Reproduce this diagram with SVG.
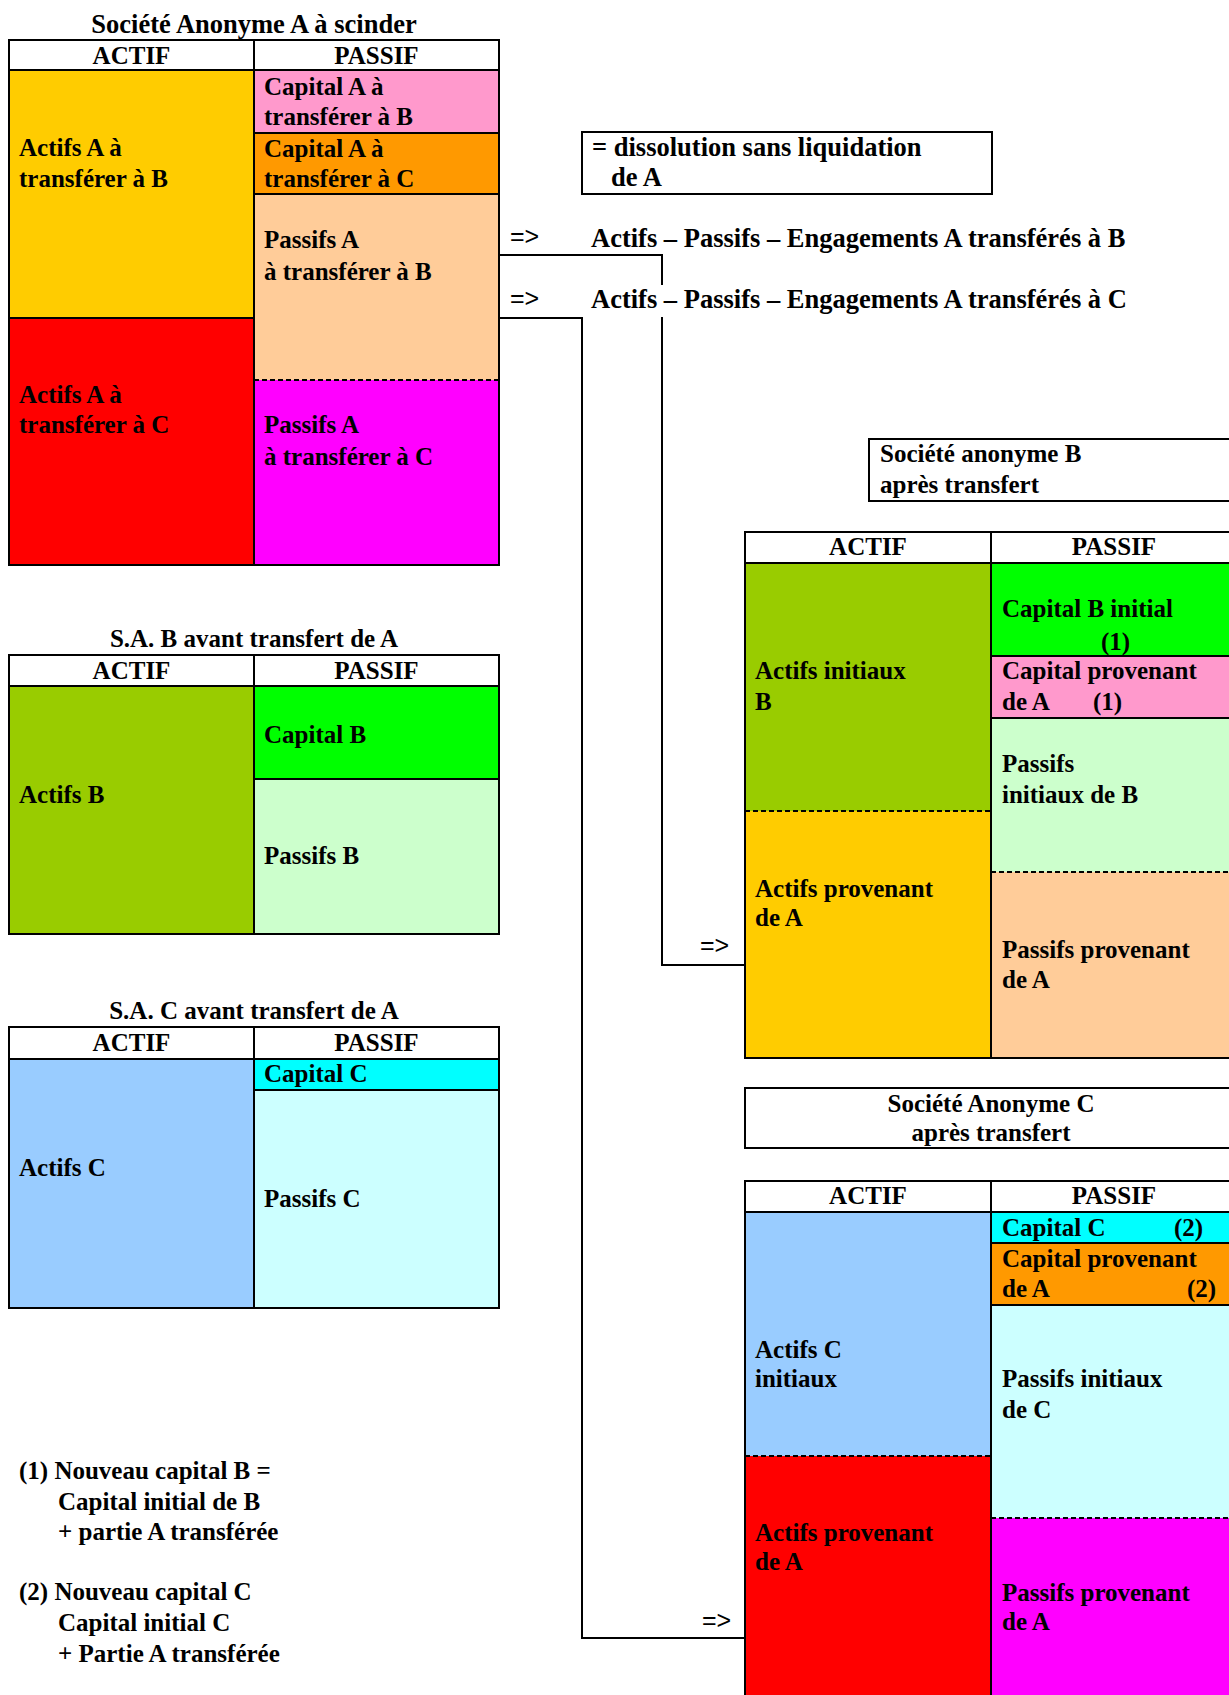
<svg xmlns="http://www.w3.org/2000/svg" width="1229" height="1695" viewBox="0 0 1229 1695">
<style>
.t{font-family:"Liberation Serif",serif;font-weight:bold;font-size:25px;fill:#000}
.l{font-size:26.5px}
.c{text-anchor:middle}
.a{font-family:"Liberation Sans",sans-serif;font-size:25px;fill:#000}
.b{fill:none;stroke:#000;stroke-width:2}
.d{fill:none;stroke:#000;stroke-width:2;stroke-dasharray:5,3}
.w{fill:#fff}
</style>
<rect width="1229" height="1695" fill="#fff"/>

<g id="table-A">
<text class="t l c" x="254" y="33">Société Anonyme A à scinder</text>
<rect class="w" x="9" y="40" width="490" height="30"/>
<rect x="9" y="70" width="245" height="248" fill="#FFCC00"/>
<rect x="9" y="318" width="245" height="247" fill="#FF0000"/>
<rect x="254" y="70" width="245" height="63" fill="#FF99CC"/>
<rect x="254" y="133" width="245" height="61" fill="#FF9900"/>
<rect x="254" y="194" width="245" height="186" fill="#FFCC99"/>
<rect x="254" y="380" width="245" height="185" fill="#FF00FF"/>
<path class="b" d="M9,70 H499 M9,318 H254 M254,133 H499 M254,194 H499 M254,40 V565"/>
<path class="d" d="M254,380 H499"/>
<rect class="b" x="9" y="40" width="490" height="525"/>
<text class="t c" x="131.5" y="64">ACTIF</text>
<text class="t c" x="376.5" y="64">PASSIF</text>
<text class="t" x="19" y="156">Actifs A à</text>
<text class="t" x="19" y="187">transférer à B</text>
<text class="t" x="19" y="403">Actifs A à</text>
<text class="t" x="19" y="433">transférer à C</text>
<text class="t" x="264" y="95">Capital A à</text>
<text class="t" x="264" y="125">transférer à B</text>
<text class="t" x="264" y="157">Capital A à</text>
<text class="t" x="264" y="187">transférer à C</text>
<text class="t" x="264" y="248">Passifs A</text>
<text class="t" x="264" y="280">à transférer à B</text>
<text class="t" x="264" y="433">Passifs A</text>
<text class="t" x="264" y="465">à transférer à C</text>
</g>

<g id="dissolution">
<rect class="b" x="582" y="132" width="410" height="62"/>
<text class="t l" x="592" y="156">= dissolution sans liquidation</text>
<text class="t l" x="611" y="186">de A</text>
</g>

<g id="transfer-B-label">
<text class="a" x="510" y="245">=&gt;</text>
<text class="t l" x="591" y="247">Actifs – Passifs – Engagements A transférés à B</text>
</g>
<g id="transfer-C-label">
<text class="a" x="510" y="307">=&gt;</text>
<text class="t l" x="591" y="308">Actifs – Passifs – Engagements A transférés à C</text>
</g>

<g id="table-B-before">
<text class="t c" x="254" y="647">S.A. B avant transfert de A</text>
<rect class="w" x="9" y="655" width="490" height="31"/>
<rect x="9" y="686" width="245" height="248" fill="#99CC00"/>
<rect x="254" y="686" width="245" height="93" fill="#00FF00"/>
<rect x="254" y="779" width="245" height="155" fill="#CCFFCC"/>
<path class="b" d="M9,686 H499 M254,779 H499 M254,655 V934"/>
<rect class="b" x="9" y="655" width="490" height="279"/>
<text class="t c" x="131.5" y="679">ACTIF</text>
<text class="t c" x="376.5" y="679">PASSIF</text>
<text class="t" x="264" y="743">Capital B</text>
<text class="t" x="19" y="803">Actifs B</text>
<text class="t" x="264" y="864">Passifs B</text>
</g>

<g id="table-C-before">
<text class="t c" x="254" y="1019">S.A. C avant transfert de A</text>
<rect class="w" x="9" y="1027" width="490" height="32"/>
<rect x="9" y="1059" width="245" height="249" fill="#99CCFF"/>
<rect x="254" y="1059" width="245" height="31" fill="#00FFFF"/>
<rect x="254" y="1090" width="245" height="218" fill="#CCFFFF"/>
<path class="b" d="M9,1059 H499 M254,1090 H499 M254,1027 V1308"/>
<rect class="b" x="9" y="1027" width="490" height="281"/>
<text class="t c" x="131.5" y="1051">ACTIF</text>
<text class="t c" x="376.5" y="1051">PASSIF</text>
<text class="t" x="264" y="1082">Capital C</text>
<text class="t" x="19" y="1176">Actifs C</text>
<text class="t" x="264" y="1207">Passifs C</text>
</g>

<g id="title-B-after">
<rect class="b" x="869" y="439" width="368" height="62"/>
<text class="t" x="880" y="462">Société anonyme B</text>
<text class="t" x="880" y="493">après transfert</text>
</g>

<g id="table-B-after">
<rect class="w" x="745" y="532" width="492" height="31"/>
<rect x="745" y="563" width="246" height="248" fill="#99CC00"/>
<rect x="745" y="811" width="246" height="247" fill="#FFCC00"/>
<rect x="991" y="563" width="246" height="93" fill="#00FF00"/>
<rect x="991" y="656" width="246" height="62" fill="#FF99CC"/>
<rect x="991" y="718" width="246" height="154" fill="#CCFFCC"/>
<rect x="991" y="872" width="246" height="186" fill="#FFCC99"/>
<path class="b" d="M745,563 H1237 M991,656 H1237 M991,718 H1237 M991,532 V1058"/>
<path class="d" d="M745,811 H991 M991,872 H1237"/>
<rect class="b" x="745" y="532" width="492" height="526"/>
<text class="t c" x="868" y="555">ACTIF</text>
<text class="t c" x="1114" y="555">PASSIF</text>
<text class="t" x="755" y="679">Actifs initiaux</text>
<text class="t" x="755" y="710">B</text>
<text class="t" x="755" y="897">Actifs provenant</text>
<text class="t" x="755" y="926">de A</text>
<text class="t" x="1002" y="617">Capital B initial</text>
<text class="t" x="1101" y="650">(1)</text>
<text class="t" x="1002" y="679">Capital provenant</text>
<text class="t" x="1002" y="710">de A</text>
<text class="t" x="1093" y="710">(1)</text>
<text class="t" x="1002" y="772">Passifs</text>
<text class="t" x="1002" y="803">initiaux de B</text>
<text class="t" x="1002" y="958">Passifs provenant</text>
<text class="t" x="1002" y="988">de A</text>
</g>

<g id="title-C-after">
<rect class="b" x="745" y="1088" width="492" height="60"/>
<text class="t c" x="991" y="1112">Société Anonyme C</text>
<text class="t c" x="991" y="1141">après transfert</text>
</g>

<g id="table-C-after">
<rect class="w" x="745" y="1181" width="492" height="31"/>
<rect x="745" y="1212" width="246" height="244" fill="#99CCFF"/>
<rect x="745" y="1456" width="246" height="250" fill="#FF0000"/>
<rect x="991" y="1212" width="246" height="31" fill="#00FFFF"/>
<rect x="991" y="1243" width="246" height="62" fill="#FF9900"/>
<rect x="991" y="1305" width="246" height="213" fill="#CCFFFF"/>
<rect x="991" y="1518" width="246" height="188" fill="#FF00FF"/>
<path class="b" d="M745,1212 H1237 M991,1243 H1237 M991,1305 H1237 M991,1181 V1706"/>
<path class="d" d="M745,1456 H991 M991,1518 H1237"/>
<rect class="b" x="745" y="1181" width="492" height="525"/>
<text class="t c" x="868" y="1204">ACTIF</text>
<text class="t c" x="1114" y="1204">PASSIF</text>
<text class="t" x="755" y="1358">Actifs C</text>
<text class="t" x="755" y="1387">initiaux</text>
<text class="t" x="755" y="1541">Actifs provenant</text>
<text class="t" x="755" y="1570">de A</text>
<text class="t" x="1002" y="1236">Capital C</text>
<text class="t" x="1174" y="1236">(2)</text>
<text class="t" x="1002" y="1267">Capital provenant</text>
<text class="t" x="1002" y="1297">de A</text>
<text class="t" x="1187" y="1297">(2)</text>
<text class="t" x="1002" y="1387">Passifs initiaux</text>
<text class="t" x="1002" y="1418">de C</text>
<text class="t" x="1002" y="1601">Passifs provenant</text>
<text class="t" x="1002" y="1630">de A</text>
</g>

<g id="notes">
<text class="t" x="19" y="1479">(1) Nouveau capital B =</text>
<text class="t" x="58" y="1510">Capital initial de B</text>
<text class="t" x="58" y="1540">+ partie A transférée</text>
<text class="t" x="19" y="1600">(2) Nouveau capital C</text>
<text class="t" x="58" y="1631">Capital initial C</text>
<text class="t" x="58" y="1662">+ Partie A transférée</text>
</g>

<g id="connectors">
<path class="b" d="M499,255 H662 V285 M662,317 V965 H745"/>
<path class="b" d="M499,318 H582 V1638 H745"/>
<text class="a" x="700" y="954">=&gt;</text>
<text class="a" x="702" y="1629">=&gt;</text>
</g>
</svg>
